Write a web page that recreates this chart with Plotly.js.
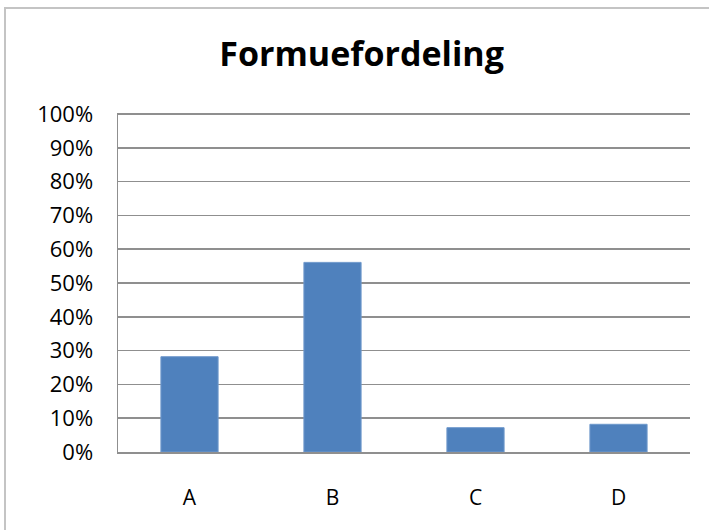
<!DOCTYPE html>
<html>
<head>
<meta charset="utf-8">
<script src="https://cdn.plot.ly/plotly-3.0.1.min.js"></script>
<style>
  html, body { margin: 0; padding: 0; background: #ffffff; overflow: hidden; }
  #chart { position: absolute; left: 0; top: 0; width: 709px; height: 530px; }
  #frame { position: absolute; left: 4px; top: 7px; width: 760px; height: 600px;
           border-left: 2px solid #c4c4c4; border-top: 2px solid #c4c4c4; pointer-events: none; }
</style>
</head>
<body>
<div id="chart"></div>
<div id="frame"></div>
<script>
const categories = ["A", "B", "C", "D"];
const shares = [0.282, 0.561, 0.072, 0.082];
const titleText = "Formuefordeling";

const fontFamily = "'Open Sans', 'Liberation Sans', sans-serif";
const gridColor = "#8f8f8f";

const data = [{
  type: "bar",
  x: categories,
  y: shares,
  marker: { color: "#4f81bd", line: { color: "#7099cc", width: 1 } },
  hoverinfo: "x+y"
}];

const layout = {
  width: 709,
  height: 530,
  margin: { l: 118, r: 19, t: 113, b: 78, pad: 0 },
  paper_bgcolor: "rgba(0,0,0,0)",
  plot_bgcolor: "#ffffff",
  showlegend: false,
  bargap: 0.6,
  title: {
    text: "<b>" + titleText + "</b>",
    font: { family: fontFamily, size: 34, color: "#000000" },
    x: 0.51, xanchor: "center", xref: "container",
    y: 0.897, yanchor: "middle", yref: "container"
  },
  xaxis: {
    type: "category",
    showline: true, linecolor: gridColor, linewidth: 1.5,
    showgrid: false, ticks: "",
    ticklabelstandoff: 26,
    tickfont: { family: fontFamily, size: 21, color: "#000000" }
  },
  yaxis: {
    range: [0, 1.003],
    tickvals: [0, 0.1, 0.2, 0.3, 0.4, 0.5, 0.6, 0.7, 0.8, 0.9, 1],
    tickformat: ".0%",
    showline: true, linecolor: gridColor, linewidth: 1.5,
    showgrid: true, gridcolor: gridColor, gridwidth: 1.5,
    zeroline: false, ticks: "",
    ticklabelstandoff: 19,
    tickfont: { family: fontFamily, size: 22, color: "#000000" }
  }
};

Plotly.newPlot("chart", data, layout, { displayModeBar: false, staticPlot: true });
</script>
</body>
</html>
